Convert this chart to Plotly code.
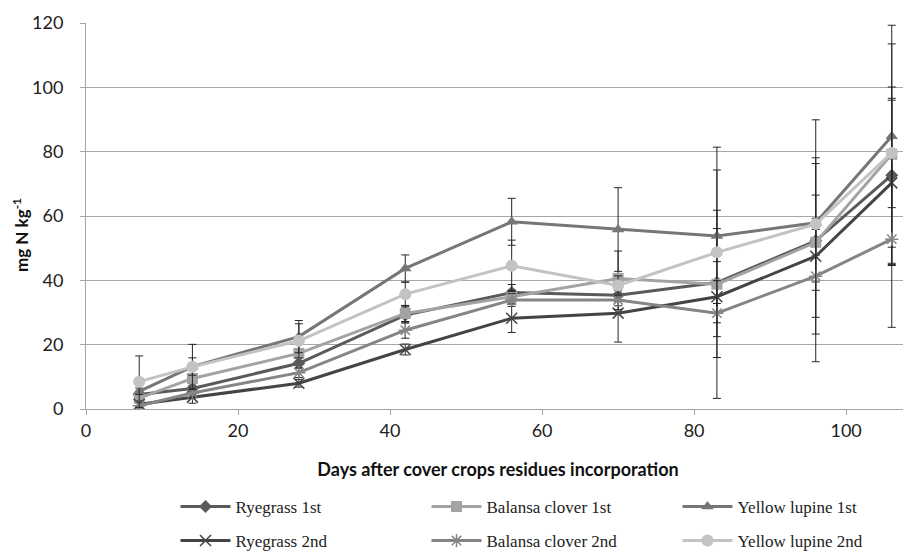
import plotly.graph_objects as go

days = [7, 14, 28, 42, 56, 70, 83, 96, 106]

rye1 = [4.5, 6.4, 14.2, 29.2, 36.2, 35.4, 39.3, 52.3, 72.7]
rye2 = [1.5, 3.7, 8.0, 18.5, 28.2, 29.8, 34.9, 47.5, 70.3]
bal1 = [3.4, 9.5, 17.3, 29.7, 34.9, 40.6, 38.8, 51.8, 79.2]
bal2 = [1.0, 5.0, 11.3, 24.5, 33.9, 33.9, 29.8, 41.3, 52.8]
lup1 = [5.5, 13.2, 22.5, 43.7, 58.2, 55.8, 53.8, 57.9, 84.8]
lup2 = [8.5, 13.1, 21.2, 35.7, 44.5, 38.4, 48.7, 57.5, 79.6]

rye1_err = [1.0, 1.0, 1.5, 2.5, 2.5, 2.0, 16.8, 37.6, 27.4]
rye2_err = [1.0, 1.9, 1.2, 1.7, 4.4, 9.0, 5.0, 19.0, 25.7]
bal1_err = [1.0, 1.5, 1.5, 2.5, 2.0, 8.5, 35.5, 4.0, 34.3]
bal2_err = [1.0, 1.5, 1.5, 2.5, 2.0, 3.0, 3.0, 18.0, 27.4]
lup1_err = [1.0, 2.7, 5.0, 4.2, 7.3, 13.0, 8.0, 18.4, 34.5]
lup2_err = [8.0, 7.0, 5.3, 3.7, 8.0, 3.0, 32.7, 20.6, 17.0]

names = ["Ryegrass 1st", "Balansa clover 1st", "Yellow lupine 1st",
         "Ryegrass 2nd", "Balansa clover 2nd", "Yellow lupine 2nd"]
series = [rye1, bal1, lup1, rye2, bal2, lup2]
errors = [rye1_err, bal1_err, lup1_err, rye2_err, bal2_err, lup2_err]
colors = ["#5a5a5a", "#a3a3a3", "#767676", "#444444", "#858585", "#c3c3c3"]
symbols = ["diamond", "square", "triangle-up", "x-thin-open", "asterisk-open", "circle"]
sizes = [10, 11, 11, 11, 11, 12]
legends = ["legend", "legend", "legend", "legend2", "legend2", "legend2"]

fig = go.Figure()
for name, ys, err, col, sym, sz, lg in zip(names, series, errors, colors, symbols, sizes, legends):
    thin = sym.endswith("-open")
    fig.add_trace(go.Scatter(
        x=days, y=ys, name=name, mode="lines+markers",
        line=dict(color=col, width=3),
        marker=dict(symbol=sym, size=sz, color=col,
                    line=dict(color=col, width=1.5 if thin else 0)),
        error_y=dict(type="data", array=err, visible=True,
                     color="#262626", thickness=1, width=4),
        legend=lg,
    ))

# page body adds an 8px offset; the figure is sized to fit the 911x551 window
W, H = 903, 543

legend_common = dict(
    orientation="h", xref="container", yref="container",
    x=0.1855, xanchor="left", yanchor="middle",
    entrywidth=186, entrywidthmode="pixels",
    font=dict(family="Liberation Serif", size=17, color="#222"),
    bgcolor="rgba(0,0,0,0)", itemwidth=50,
)

fig.update_layout(
    width=W, height=H,
    margin=dict(l=78, r=1, t=15, b=142, autoexpand=False),
    paper_bgcolor="white", plot_bgcolor="white",
    font=dict(family="Lato", size=17, color="#222"),
    legend=dict(**legend_common, y=1 - 499 / H),
    legend2=dict(**legend_common, y=1 - 533 / H),
    xaxis=dict(
        range=[0, 108.4], tickvals=[0, 20, 40, 60, 80, 100],
        showgrid=False, zeroline=False, automargin=False,
        showline=True, linecolor="#a6a6a6", linewidth=1,
        ticks="outside", ticklen=5, tickcolor="#a6a6a6",
        tickfont=dict(family="Lato", size=18, color="#222"),
        title=dict(text="<b>Days after cover crops residues incorporation</b>",
                   font=dict(family="Lato", size=18, color="#111"), standoff=23),
    ),
    yaxis=dict(
        range=[0, 120], tickvals=[0, 20, 40, 60, 80, 100, 120],
        showgrid=True, gridcolor="#a6a6a6", gridwidth=1, zeroline=False,
        automargin=False, ticklabelstandoff=13,
        showline=True, linecolor="#a6a6a6", linewidth=1,
        ticks="outside", ticklen=5, tickcolor="#a6a6a6",
        tickfont=dict(family="Lato", size=18, color="#222"),
    ),
    annotations=[dict(
        text="<b>mg N kg<sup>-1</sup></b>", textangle=-90,
        xref="paper", yref="paper",
        x=(21 - 86) / 824, y=(409 - 235) / 386,
        xanchor="center", yanchor="middle", showarrow=False,
        font=dict(family="Lato", size=17, color="#111"),
    )],
)

fig.write_html("out.html")
